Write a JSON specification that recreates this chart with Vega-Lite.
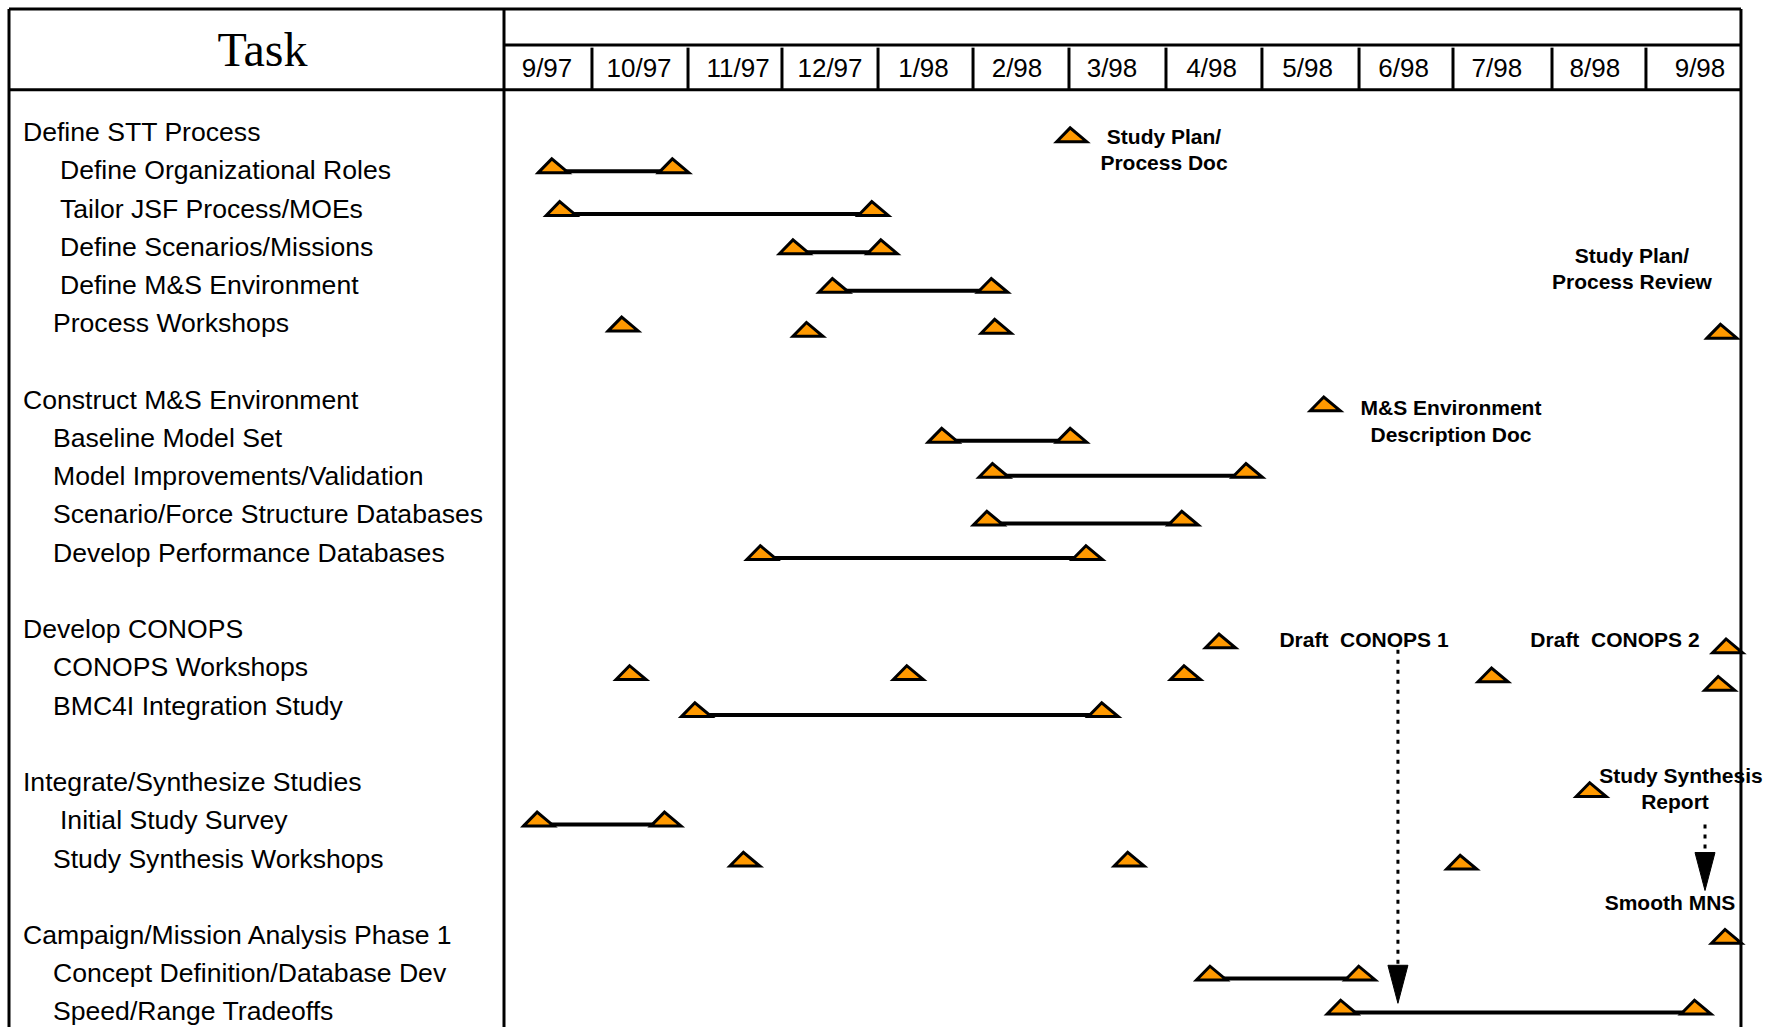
{
  "$schema": "https://vega.github.io/schema/vega-lite/v6.json",
  "width": 1767,
  "height": 1029,
  "autosize": {"type": "fit", "contains": "padding"},
  "padding": 0,
  "background": "white",
  "config": {"view": {"stroke": null}, "axis": {"disable": true}},
  "datasets": {
    "frame": [
      {"month": -5.205, "month2": 13.007, "row": -3.211, "row2": -3.211},
      {"month": -5.205, "month2": 13.007, "row": -1.097, "row2": -1.097},
      {"month": 0, "month2": 13.007, "row": -2.272, "row2": -2.272},
      {"month": -5.205, "month2": -5.205, "row": -3.211, "row2": 23.42},
      {"month": 0, "month2": 0, "row": -3.211, "row2": 23.42},
      {"month": 13.007, "month2": 13.007, "row": -3.211, "row2": 23.42},
      {"month": 0.925, "month2": 0.925, "row": -2.2, "row2": -1.12},
      {"month": 1.935, "month2": 1.935, "row": -2.2, "row2": -1.12},
      {"month": 2.923, "month2": 2.923, "row": -2.2, "row2": -1.12},
      {"month": 3.933, "month2": 3.933, "row": -2.2, "row2": -1.12},
      {"month": 4.932, "month2": 4.932, "row": -2.2, "row2": -1.12},
      {"month": 5.941, "month2": 5.941, "row": -2.2, "row2": -1.12},
      {"month": 6.961, "month2": 6.961, "row": -2.2, "row2": -1.12},
      {"month": 7.970, "month2": 7.970, "row": -2.2, "row2": -1.12},
      {"month": 8.991, "month2": 8.991, "row": -2.2, "row2": -1.12},
      {"month": 9.979, "month2": 9.979, "row": -2.2, "row2": -1.12},
      {"month": 11.020, "month2": 11.020, "row": -2.2, "row2": -1.12},
      {"month": 12.008, "month2": 12.008, "row": -2.2, "row2": -1.12}
    ],
    "months": [
      {"label": "9/97", "month": 0.452},
      {"label": "10/97", "month": 1.420},
      {"label": "11/97", "month": 2.461},
      {"label": "12/97", "month": 3.428},
      {"label": "1/98", "month": 4.411},
      {"label": "2/98", "month": 5.394},
      {"label": "3/98", "month": 6.393},
      {"label": "4/98", "month": 7.44},
      {"label": "5/98", "month": 8.45},
      {"label": "6/98", "month": 9.46},
      {"label": "7/98", "month": 10.44},
      {"label": "8/98", "month": 11.47},
      {"label": "9/98", "month": 12.576}
    ],
    "header": [{"label": "Task", "month": -2.54, "row": -2.08}],
    "tasks": [
      {"label": "Define STT Process", "row": 0, "level": 0},
      {"label": "Define Organizational Roles", "row": 1, "level": 2},
      {"label": "Tailor JSF Process/MOEs", "row": 2, "level": 2},
      {"label": "Define Scenarios/Missions", "row": 3, "level": 2},
      {"label": "Define M&S Environment", "row": 4, "level": 2},
      {"label": "Process Workshops", "row": 5, "level": 1},
      {"label": "Construct M&S Environment", "row": 7, "level": 0},
      {"label": "Baseline Model Set", "row": 8, "level": 1},
      {"label": "Model Improvements/Validation", "row": 9, "level": 1},
      {"label": "Scenario/Force Structure Databases", "row": 10, "level": 1},
      {"label": "Develop Performance Databases", "row": 11, "level": 1},
      {"label": "Develop CONOPS", "row": 13, "level": 0},
      {"label": "CONOPS Workshops", "row": 14, "level": 1},
      {"label": "BMC4I Integration Study", "row": 15, "level": 1},
      {"label": "Integrate/Synthesize Studies", "row": 17, "level": 0},
      {"label": "Initial Study Survey", "row": 18, "level": 2},
      {"label": "Study Synthesis Workshops", "row": 19, "level": 1},
      {"label": "Campaign/Mission Analysis Phase 1", "row": 21, "level": 0},
      {"label": "Concept Definition/Database Dev", "row": 22, "level": 1},
      {"label": "Speed/Range Tradeoffs", "row": 23, "level": 1}
    ],
    "bars": [
      {"task": "Define Organizational Roles", "start": 0.518, "end": 1.786, "row": 1.07},
      {"task": "Tailor JSF Process/MOEs", "start": 0.601, "end": 3.883, "row": 2.19},
      {"task": "Define Scenarios/Missions", "start": 3.054, "end": 3.978, "row": 3.19},
      {"task": "Define M&S Environment", "start": 3.469, "end": 5.140, "row": 4.20},
      {"task": "Baseline Model Set", "start": 4.618, "end": 5.969, "row": 8.12},
      {"task": "Model Improvements/Validation", "start": 5.152, "end": 7.818, "row": 9.04},
      {"task": "Scenario/Force Structure Databases", "start": 5.093, "end": 7.143, "row": 10.29},
      {"task": "Develop Performance Databases", "start": 2.711, "end": 6.135, "row": 11.19},
      {"task": "BMC4I Integration Study", "start": 2.023, "end": 6.301, "row": 15.30},
      {"task": "Initial Study Survey", "start": 0.364, "end": 1.703, "row": 18.16},
      {"task": "Concept Definition/Database Dev", "start": 7.439, "end": 9.003, "row": 22.19},
      {"task": "Speed/Range Tradeoffs", "start": 8.813, "end": 12.534, "row": 23.08}
    ],
    "milestones": [
      {"name": "Study Plan/Process Doc", "month": 5.969, "row": 0.26},
      {"name": "Process Workshops", "month": 1.253, "row": 5.21},
      {"name": "Process Workshops", "month": 3.196, "row": 5.35},
      {"name": "Process Workshops", "month": 5.175, "row": 5.27},
      {"name": "Study Plan/Process Review", "month": 12.807, "row": 5.40},
      {"name": "M&S Environment Description Doc", "month": 8.636, "row": 7.30},
      {"name": "Draft CONOPS 1", "month": 7.534, "row": 13.50},
      {"name": "Draft CONOPS 2", "month": 12.866, "row": 13.63},
      {"name": "CONOPS Workshops", "month": 1.336, "row": 14.33},
      {"name": "CONOPS Workshops", "month": 4.251, "row": 14.33},
      {"name": "CONOPS Workshops", "month": 7.166, "row": 14.33},
      {"name": "CONOPS Workshops", "month": 10.40, "row": 14.39},
      {"name": "CONOPS Workshops", "month": 12.783, "row": 14.61},
      {"name": "Study Synthesis Report", "month": 11.432, "row": 17.39},
      {"name": "Study Synthesis Workshops", "month": 2.533, "row": 19.21},
      {"name": "Study Synthesis Workshops", "month": 6.574, "row": 19.21},
      {"name": "Study Synthesis Workshops", "month": 10.07, "row": 19.29},
      {"name": "Smooth MNS", "month": 12.855, "row": 21.23}
    ],
    "notes": [
      {"text": "Study Plan/", "month": 6.940, "row": 0.11},
      {"text": "Process Doc", "month": 6.940, "row": 0.79},
      {"text": "Study Plan/", "month": 11.861, "row": 3.23},
      {"text": "Process Review", "month": 11.861, "row": 3.91},
      {"text": "M&S Environment", "month": 9.958, "row": 7.21},
      {"text": "Description Doc", "month": 9.958, "row": 7.91},
      {"text": "Draft\u00a0\u00a0CONOPS 1", "month": 9.043, "row": 13.26},
      {"text": "Draft\u00a0\u00a0CONOPS 2", "month": 11.682, "row": 13.26},
      {"text": "Study Synthesis", "month": 12.377, "row": 16.83},
      {"text": "Report", "month": 12.313, "row": 17.50},
      {"text": "Smooth MNS", "month": 12.261, "row": 20.15}
    ],
    "links": [
      {"from": "Draft CONOPS 1", "month": 9.40, "row": 13.55, "row2": 21.8, "tip": 22.8},
      {"from": "Study Synthesis Report", "month": 12.629, "row": 18.12, "row2": 18.86, "tip": 19.85}
    ]
  },
  "layer": [
    {
      "data": {"name": "frame"},
      "mark": {"type": "rule", "color": "black", "strokeWidth": 3},
      "encoding": {
        "x": {"field": "month", "type": "quantitative", "scale": {"domain": [-5.2997, 13.2808], "nice": false, "zero": false}, "axis": null},
        "y": {"field": "row", "type": "quantitative", "scale": {"domain": [-3.4465, 23.4204], "nice": false, "zero": false, "reverse": true}, "axis": null},
        "x2": {"field": "month2"},
        "y2": {"field": "row2"}
      }
    },
    {
      "data": {"name": "months"},
      "mark": {"type": "text", "font": "Liberation Sans", "fontSize": 26, "align": "center", "baseline": "middle", "color": "black"},
      "encoding": {
        "x": {"field": "month", "type": "quantitative", "scale": {"domain": [-5.2997, 13.2808], "nice": false, "zero": false}, "axis": null},
        "y": {"datum": -1.645, "type": "quantitative", "scale": {"domain": [-3.4465, 23.4204], "nice": false, "zero": false, "reverse": true}},
        "text": {"field": "label", "type": "nominal"}
      }
    },
    {
      "data": {"name": "header"},
      "mark": {"type": "text", "font": "Liberation Serif", "fontSize": 48, "align": "center", "baseline": "middle", "color": "black"},
      "encoding": {
        "x": {"field": "month", "type": "quantitative", "scale": {"domain": [-5.2997, 13.2808], "nice": false, "zero": false}, "axis": null},
        "y": {"field": "row", "type": "quantitative", "scale": {"domain": [-3.4465, 23.4204], "nice": false, "zero": false, "reverse": true}, "axis": null},
        "text": {"field": "label", "type": "nominal"}
      }
    },
    {
      "data": {"name": "tasks"},
      "transform": [{"filter": "datum.level == 0"}],
      "mark": {"type": "text", "font": "Liberation Sans", "fontSize": 26.6, "align": "left", "baseline": "middle", "color": "black", "dy": 1.5},
      "encoding": {
        "x": {"datum": -5.058, "type": "quantitative", "scale": {"domain": [-5.2997, 13.2808], "nice": false, "zero": false}},
        "y": {"field": "row", "type": "quantitative", "scale": {"domain": [-3.4465, 23.4204], "nice": false, "zero": false, "reverse": true}, "axis": null},
        "text": {"field": "label", "type": "nominal"}
      }
    },
    {
      "data": {"name": "tasks"},
      "transform": [{"filter": "datum.level == 1"}],
      "mark": {"type": "text", "font": "Liberation Sans", "fontSize": 26.6, "align": "left", "baseline": "middle", "color": "black", "dx": 30, "dy": 1.5},
      "encoding": {
        "x": {"datum": -5.058, "type": "quantitative", "scale": {"domain": [-5.2997, 13.2808], "nice": false, "zero": false}},
        "y": {"field": "row", "type": "quantitative", "scale": {"domain": [-3.4465, 23.4204], "nice": false, "zero": false, "reverse": true}, "axis": null},
        "text": {"field": "label", "type": "nominal"}
      }
    },
    {
      "data": {"name": "tasks"},
      "transform": [{"filter": "datum.level == 2"}],
      "mark": {"type": "text", "font": "Liberation Sans", "fontSize": 26.6, "align": "left", "baseline": "middle", "color": "black", "dx": 37, "dy": 1.5},
      "encoding": {
        "x": {"datum": -5.058, "type": "quantitative", "scale": {"domain": [-5.2997, 13.2808], "nice": false, "zero": false}},
        "y": {"field": "row", "type": "quantitative", "scale": {"domain": [-3.4465, 23.4204], "nice": false, "zero": false, "reverse": true}, "axis": null},
        "text": {"field": "label", "type": "nominal"}
      }
    },
    {
      "data": {"name": "bars"},
      "mark": {"type": "rule", "color": "black", "strokeWidth": 4, "yOffset": -1.5},
      "encoding": {
        "x": {"field": "start", "type": "quantitative", "scale": {"domain": [-5.2997, 13.2808], "nice": false, "zero": false}, "axis": null},
        "y": {"field": "row", "type": "quantitative", "scale": {"domain": [-3.4465, 23.4204], "nice": false, "zero": false, "reverse": true}, "axis": null},
        "x2": {"field": "end"}
      }
    },
    {
      "data": {"name": "bars"},
      "transform": [{"fold": ["start", "end"], "as": ["which", "month"]}],
      "mark": {"type": "point", "shape": "M -1 0 L -0.1 -0.92 L 1 0 Z", "filled": true, "fill": "#FF9900", "stroke": "black", "strokeWidth": 3, "size": 900, "opacity": 1, "strokeJoin": "miter"},
      "encoding": {
        "x": {"field": "month", "type": "quantitative", "scale": {"domain": [-5.2997, 13.2808], "nice": false, "zero": false}, "axis": null},
        "y": {"field": "row", "type": "quantitative", "scale": {"domain": [-3.4465, 23.4204], "nice": false, "zero": false, "reverse": true}, "axis": null}
      }
    },
    {
      "data": {"name": "milestones"},
      "mark": {"type": "point", "shape": "M -1 0 L -0.1 -0.92 L 1 0 Z", "filled": true, "fill": "#FF9900", "stroke": "black", "strokeWidth": 3, "size": 900, "opacity": 1, "strokeJoin": "miter"},
      "encoding": {
        "x": {"field": "month", "type": "quantitative", "scale": {"domain": [-5.2997, 13.2808], "nice": false, "zero": false}, "axis": null},
        "y": {"field": "row", "type": "quantitative", "scale": {"domain": [-3.4465, 23.4204], "nice": false, "zero": false, "reverse": true}, "axis": null}
      }
    },
    {
      "data": {"name": "notes"},
      "mark": {"type": "text", "font": "Liberation Sans", "fontSize": 21, "fontWeight": "bold", "align": "center", "baseline": "middle", "color": "black", "dy": 2},
      "encoding": {
        "x": {"field": "month", "type": "quantitative", "scale": {"domain": [-5.2997, 13.2808], "nice": false, "zero": false}, "axis": null},
        "y": {"field": "row", "type": "quantitative", "scale": {"domain": [-3.4465, 23.4204], "nice": false, "zero": false, "reverse": true}, "axis": null},
        "text": {"field": "text", "type": "nominal"}
      }
    },
    {
      "data": {"name": "links"},
      "mark": {"type": "rule", "color": "black", "strokeWidth": 3, "strokeDash": [4, 6]},
      "encoding": {
        "x": {"field": "month", "type": "quantitative", "scale": {"domain": [-5.2997, 13.2808], "nice": false, "zero": false}, "axis": null},
        "y": {"field": "row", "type": "quantitative", "scale": {"domain": [-3.4465, 23.4204], "nice": false, "zero": false, "reverse": true}, "axis": null},
        "y2": {"field": "row2"}
      }
    },
    {
      "data": {"name": "links"},
      "mark": {"type": "point", "shape": "M -1 -3.8 L 1 -3.8 L 0 0 Z", "filled": true, "fill": "black", "stroke": "black", "strokeWidth": 1, "size": 400, "opacity": 1},
      "encoding": {
        "x": {"field": "month", "type": "quantitative", "scale": {"domain": [-5.2997, 13.2808], "nice": false, "zero": false}, "axis": null},
        "y": {"field": "tip", "type": "quantitative", "scale": {"domain": [-3.4465, 23.4204], "nice": false, "zero": false, "reverse": true}, "axis": null}
      }
    }
  ]
}
